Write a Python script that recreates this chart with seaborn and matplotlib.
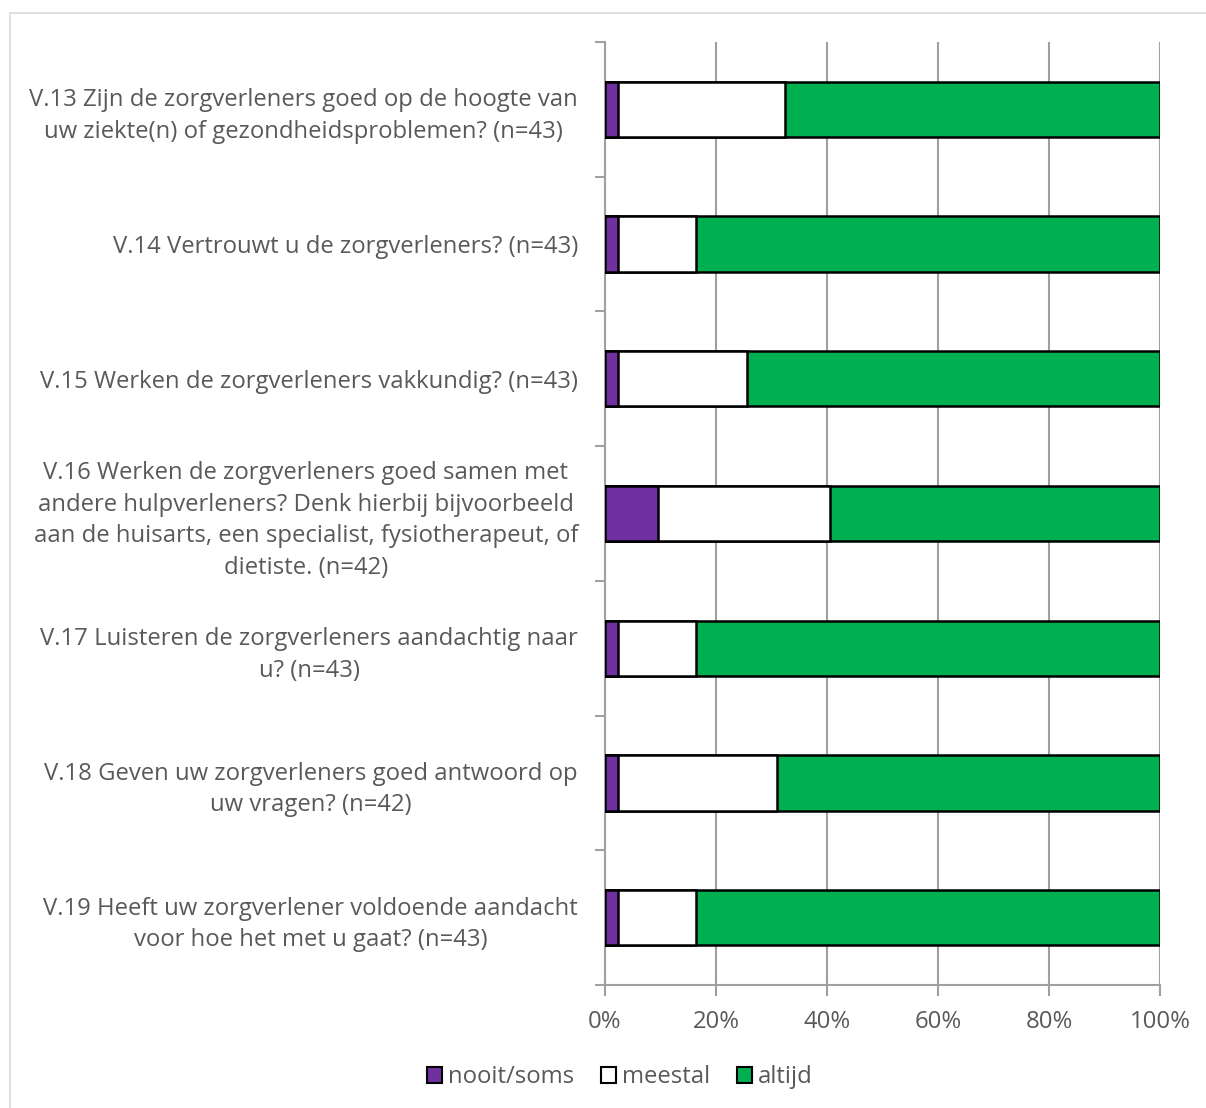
import seaborn as sns
import matplotlib.pyplot as plt
import pandas as pd
from matplotlib.patches import Patch, Rectangle
from matplotlib.ticker import FixedLocator

vragen = [
    "V.13 Zijn de zorgverleners goed op de hoogte van\nuw ziekte(n) of gezondheidsproblemen? (n=43)",
    "V.14 Vertrouwt u de zorgverleners? (n=43)",
    "V.15 Werken de zorgverleners vakkundig? (n=43)",
    "V.16 Werken de zorgverleners goed samen met\nandere hulpverleners? Denk hierbij bijvoorbeeld\naan de huisarts, een specialist, fysiotherapeut, of\ndietiste. (n=42)",
    "V.17 Luisteren de zorgverleners aandachtig naar\nu? (n=43)",
    "V.18 Geven uw zorgverleners goed antwoord op\nuw vragen? (n=42)",
    "V.19 Heeft uw zorgverlener voldoende aandacht\nvoor hoe het met u gaat? (n=43)",
]
nooit_soms = [2.3, 2.3, 2.3, 9.5, 2.3, 2.4, 2.3]
meestal = [30.2, 14.0, 23.3, 31.0, 14.0, 28.6, 14.0]
altijd = [67.5, 83.7, 74.4, 59.5, 83.7, 69.0, 83.7]
xticks = [0, 20, 40, 60, 80, 100]

kleuren = {"nooit/soms": "#7030a0", "meestal": "#ffffff", "altijd": "#00b050"}
tekst = "#595959"
grijs = "#a0a0a0"
fs = 17.2

df = pd.DataFrame({"vraag": vragen, "nooit": nooit_soms, "meestal": meestal, "altijd": altijd})
df["c1"] = df["nooit"]
df["c2"] = df["nooit"] + df["meestal"]
df["c3"] = df["c2"] + df["altijd"]

sns.set_style("white")
plt.rcParams["font.family"] = ["Open Sans", "DejaVu Sans"]

fig = plt.figure(figsize=(12.06, 11.08), dpi=100)
ax = fig.add_axes([0.5017, 0.1110, 0.4602, 0.8511])

# stacked bars: draw cumulative totals from largest to smallest
for col, naam in [("c3", "altijd"), ("c2", "meestal"), ("c1", "nooit/soms")]:
    sns.barplot(data=df, x=col, y="vraag", orient="h", color=kleuren[naam],
                saturation=1, edgecolor="black", linewidth=1.8, width=0.41, ax=ax, zorder=3)

ax.set_xlim(0, 100)
ax.set_ylim(6.5, -0.5)
ax.set_xticks(xticks)
ax.set_xticklabels([f"{t}%" for t in xticks])
ax.set_xlabel("")
ax.set_ylabel("")
ax.xaxis.grid(True, color=grijs, linewidth=1.5, zorder=0)
ax.set_axisbelow(True)

for s in ["top", "right"]:
    ax.spines[s].set_visible(False)
for s in ["left", "bottom"]:
    ax.spines[s].set_color(grijs)
    ax.spines[s].set_linewidth(1.5)

ax.tick_params(axis="x", bottom=True, colors=grijs, labelcolor=tekst, labelsize=fs,
               length=8, width=1.5, direction="out", pad=10)
ax.tick_params(axis="y", which="major", left=True, length=0, labelcolor=tekst, labelsize=fs, pad=19.5)
ax.yaxis.set_minor_locator(FixedLocator([i - 0.5 for i in range(len(vragen) + 1)]))
ax.tick_params(axis="y", which="minor", left=True, length=7, width=1.5, color=grijs, direction="out")
for lbl in ax.get_yticklabels():
    lbl.set_multialignment("center")
    lbl.set_linespacing(1.42)

handles = [Patch(facecolor=c, edgecolor="black", linewidth=1.5, label=n) for n, c in kleuren.items()]
fig.legend(handles=handles, loc="center", bbox_to_anchor=(0.514, 0.028), ncol=3, frameon=False,
           fontsize=fs, labelcolor=tekst, handlelength=0.65, handleheight=0.65,
           handletextpad=0.25, columnspacing=1.1)

fig.patches.append(Rectangle((0.008, -0.01), 0.995, 0.998, transform=fig.transFigure,
                             fill=False, edgecolor="#d9d9d9", linewidth=1.2))

fig.savefig("out.png", dpi=100)
